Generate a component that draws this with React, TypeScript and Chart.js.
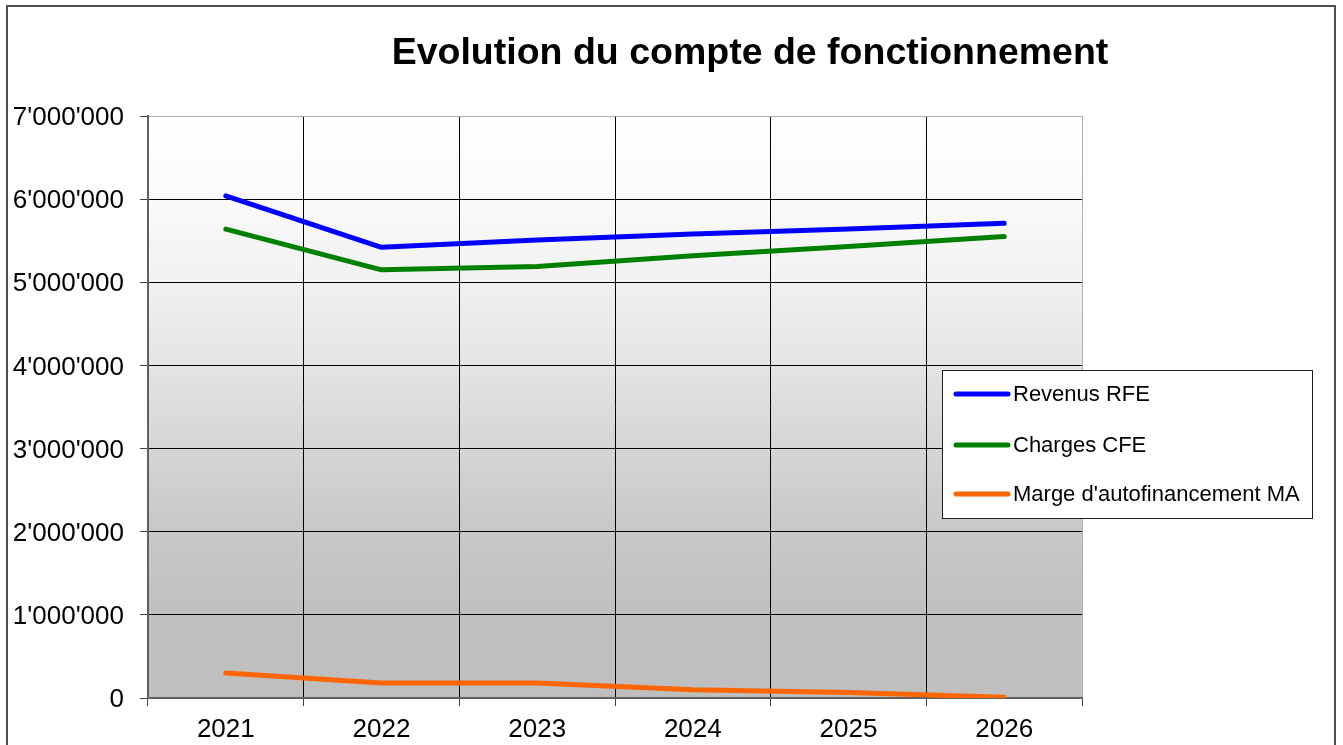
import React, { useEffect, useRef } from "react";
import { Chart, registerables } from "chart.js";

Chart.register(...registerables);

const categories = ["2021", "2022", "2023", "2024", "2025", "2026"];
const revenus = [6040000, 5420000, 5510000, 5580000, 5640000, 5710000];
const charges = [5640000, 5150000, 5190000, 5320000, 5430000, 5550000];
const marge = [300000, 180000, 180000, 100000, 65000, 10000];
const seriesNames = ["Revenus RFE", "Charges CFE", "Marge d'autofinancement MA"];
const seriesColors = ["#0000ff", "#008000", "#ff6600"];
const titleText = "Evolution du compte de fonctionnement";

const FONT = "'Liberation Sans', Arial, sans-serif";

function fmt(v: number): string {
  const s = Math.round(v).toString();
  return s.replace(/\B(?=(\d{3})+(?!\d))/g, "'");
}

const decorPlugin = {
  id: "decor",
  beforeDraw(chart: any) {
    const { ctx, chartArea } = chart;
    ctx.save();
    ctx.fillStyle = "#ffffff";
    ctx.fillRect(0, 0, chart.width, chart.height);
    const g = ctx.createLinearGradient(0, chartArea.top, 0, chartArea.bottom);
    g.addColorStop(0, "#ffffff");
    g.addColorStop(1 / 7, "#fafafa");
    g.addColorStop(2 / 7, "#f1f1f1");
    g.addColorStop(3 / 7, "#e4e4e4");
    g.addColorStop(4 / 7, "#d5d5d5");
    g.addColorStop(5 / 7, "#c8c8c8");
    g.addColorStop(6 / 7, "#c0c0c0");
    g.addColorStop(1, "#bfbfbf");
    ctx.fillStyle = g;
    ctx.fillRect(chartArea.left, chartArea.top, chartArea.right - chartArea.left, chartArea.bottom - chartArea.top);
    ctx.restore();
  },
  afterDraw(chart: any) {
    const { ctx } = chart;
    ctx.save();
    // outer frame
    ctx.strokeStyle = "#505050";
    ctx.lineWidth = 2;
    ctx.strokeRect(7, 6, 1328, 800);
    // title
    ctx.fillStyle = "#000000";
    ctx.font = `bold 37.5px ${FONT}`;
    ctx.textAlign = "center";
    ctx.textBaseline = "middle";
    ctx.fillText(titleText, 750, 54);
    // legend
    const lx = 942.5, ly = 370.5, lw = 370, lh = 148;
    ctx.fillStyle = "#ffffff";
    ctx.fillRect(lx, ly, lw, lh);
    ctx.strokeStyle = "#202020";
    ctx.lineWidth = 1;
    ctx.strokeRect(lx, ly, lw, lh);
    const rows = [394, 445, 494];
    ctx.font = `22px ${FONT}`;
    ctx.textAlign = "left";
    ctx.textBaseline = "middle";
    seriesNames.forEach((name, i) => {
      ctx.strokeStyle = seriesColors[i];
      ctx.lineWidth = 5;
      ctx.lineCap = "round";
      ctx.beginPath();
      ctx.moveTo(956, rows[i]);
      ctx.lineTo(1008, rows[i]);
      ctx.stroke();
      ctx.fillStyle = "#000000";
      ctx.fillText(name, 1013, rows[i] + 1);
    });
    ctx.restore();
  },
};

export default function App() {
  const ref = useRef<HTMLCanvasElement>(null);
  useEffect(() => {
    if (!ref.current) return;
    const data = [revenus, charges, marge];
    const chart = new Chart(ref.current, {
      type: "line",
      data: {
        labels: categories,
        datasets: seriesNames.map((n, i) => ({
          label: n,
          data: data[i],
          borderColor: seriesColors[i],
          backgroundColor: seriesColors[i],
          borderWidth: 5,
          pointRadius: 0,
          tension: 0,
          borderCapStyle: "round" as const,
          borderJoinStyle: "round" as const,
        })),
      },
      options: {
        responsive: false,
        animation: false,
        layout: { padding: { left: 8, top: 116, right: 261, bottom: 7 } },
        plugins: {
          legend: { display: false },
          title: { display: false },
          tooltip: { enabled: false },
        },
        scales: {
          x: {
            type: "category",
            offset: true,
            grid: {
              offset: true,
              color: (c: any) => (c.index === undefined ? "#b0b0b0" : "#000000"),
              lineWidth: 1,
              tickLength: 8,
              tickColor: "#404040",
            },
            border: { color: "#606060", width: 2 },
            ticks: {
              color: "#000000",
              font: { family: FONT, size: 26 },
              padding: 8,
              maxRotation: 0,
            },
            afterFit: (s: any) => {
              s.height = 40;
            },
          },
          y: {
            min: 0,
            max: 7000000,
            grid: {
              color: (c: any) => (c.tick && c.tick.value === 7000000 ? "#b0b0b0" : "#000000"),
              lineWidth: 1,
              tickLength: 8,
              tickColor: "#404040",
            },
            border: { color: "#606060", width: 2 },
            ticks: {
              stepSize: 1000000,
              color: "#000000",
              font: { family: FONT, size: 26 },
              padding: 16,
              labelOffset: 2,
              callback: (v: any) => fmt(Number(v)),
            },
            afterFit: (s: any) => {
              s.width = 140;
            },
          },
        },
      },
      plugins: [decorPlugin],
    });
    return () => chart.destroy();
  }, []);
  return (
    <div style={{ position: "fixed", left: 0, top: 0, width: 1343, height: 745, background: "#fff" }}>
      <canvas ref={ref} width={1343} height={745} style={{ display: "block" }} />
    </div>
  );
}
